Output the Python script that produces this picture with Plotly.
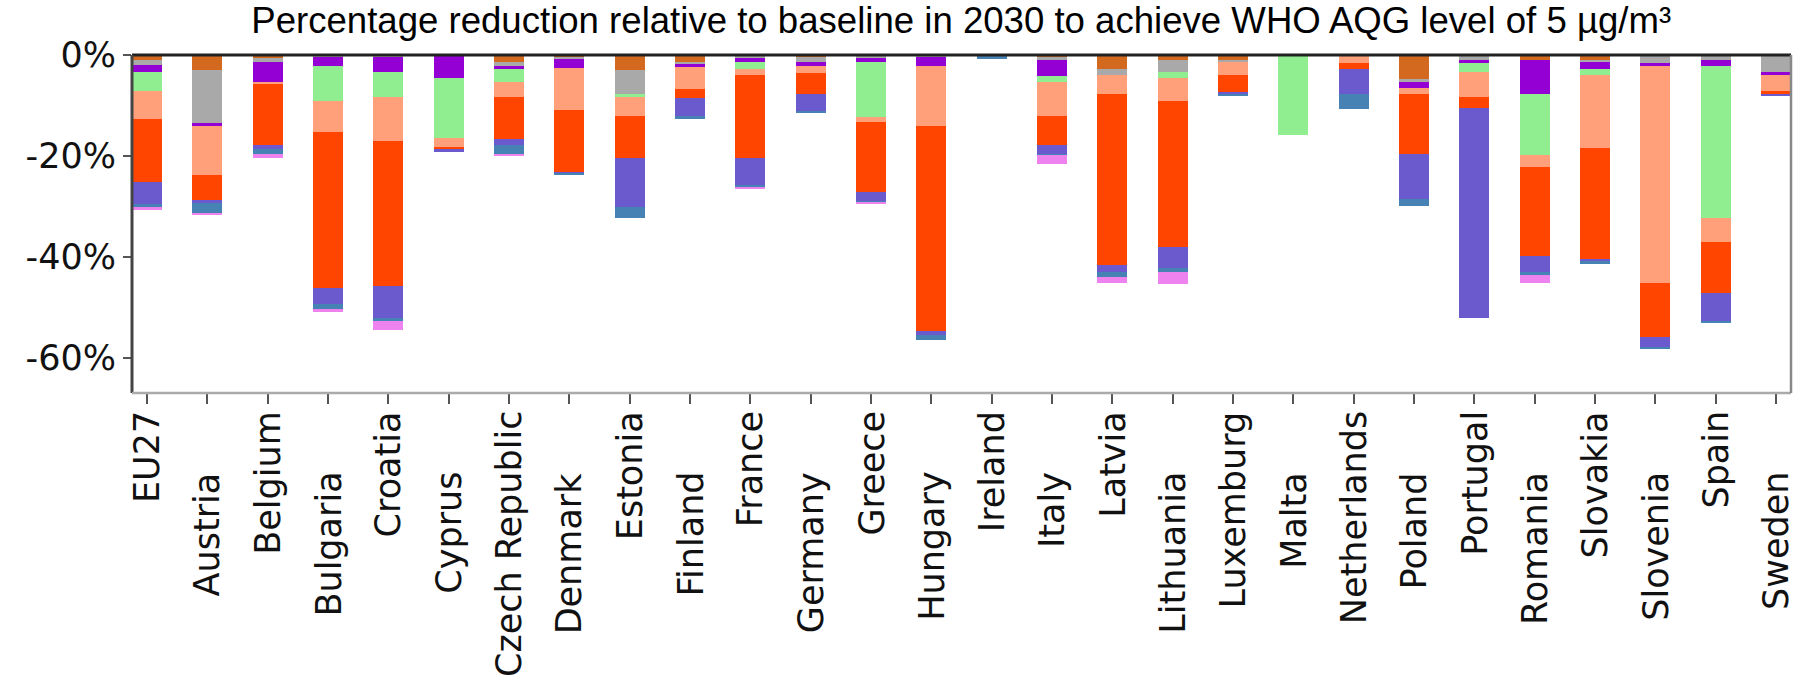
import plotly.graph_objects as go

# Countries along the x axis
countries = [
    "EU27", "Austria", "Belgium", "Bulgaria", "Croatia", "Cyprus",
    "Czech Republic", "Denmark", "Estonia", "Finland", "France", "Germany",
    "Greece", "Hungary", "Ireland", "Italy", "Latvia", "Lithuania",
    "Luxemburg", "Malta", "Netherlands", "Poland", "Portugal", "Romania",
    "Slovakia", "Slovenia", "Spain", "Sweden",
]

# Reduction contributions (percentage points), stacked from 0% downwards
sector_1 = [0.9, 2.9, 0.6, 0.2, 0.2, 0.0, 1.4, 0.3, 2.9, 1.5, 0.3, 0.4, 0.0, 0.2,
            0.0, 0.4, 2.8, 0.9, 1.0, 0.0, 0.0, 4.7, 0.0, 0.9, 1.1, 0.2, 0.2, 0.2]
sector_2 = [1.1, 10.5, 0.7, 0.1, 0.2, 0.0, 0.7, 0.5, 4.8, 0.2, 0.3, 0.9, 0.5, 0.2,
            0.2, 0.5, 1.2, 2.5, 0.3, 0.0, 0.0, 0.6, 1.0, 0.0, 0.3, 1.3, 0.7, 3.2]
sector_3 = [1.3, 0.6, 4.0, 1.8, 3.0, 4.6, 0.7, 1.8, 0.0, 0.6, 0.8, 0.8, 0.9, 1.7,
            0.0, 3.2, 0.0, 0.0, 0.0, 0.0, 0.0, 1.3, 0.5, 6.9, 1.4, 0.6, 1.2, 0.6]
sector_4 = [3.8, 0.0, 0.0, 7.1, 5.0, 11.9, 2.5, 0.0, 0.7, 0.0, 1.3, 0.0, 10.9, 0.0,
            0.0, 1.2, 0.0, 1.2, 0.0, 15.8, 0.0, 0.0, 1.9, 11.9, 1.2, 0.0, 30.1, 0.0]
sector_5 = [5.6, 9.7, 0.4, 6.1, 8.7, 1.8, 3.1, 8.3, 3.7, 4.5, 1.3, 1.5, 1.0, 11.9,
            0.0, 6.8, 3.7, 4.6, 2.7, 0.0, 1.5, 1.1, 5.0, 2.4, 14.4, 43.1, 4.8, 3.1]
sector_6 = [12.5, 4.9, 12.1, 30.8, 28.7, 0.5, 8.2, 12.4, 8.3, 1.8, 16.3, 4.1, 13.9, 40.7,
            0.0, 5.8, 33.8, 28.8, 3.5, 0.0, 1.3, 11.9, 2.0, 17.6, 21.9, 10.6, 10.1, 0.6]
sector_7 = [4.2, 0.7, 0.8, 3.1, 6.3, 0.3, 1.2, 0.2, 9.7, 3.5, 5.6, 3.3, 1.8, 0.8,
            0.0, 1.7, 1.5, 4.2, 0.2, 0.0, 4.9, 8.9, 41.7, 3.3, 0.4, 2.0, 5.6, 0.5]
sector_8 = [0.6, 2.1, 1.0, 1.0, 0.6, 0.0, 1.8, 0.3, 2.2, 0.6, 0.2, 0.5, 0.1, 1.0,
            0.5, 0.2, 1.0, 0.8, 0.5, 0.0, 3.0, 1.4, 0.0, 0.6, 0.6, 0.3, 0.2, 0.0]
sector_9 = [0.7, 0.2, 0.8, 0.7, 1.8, 0.0, 0.2, 0.0, 0.0, 0.0, 0.4, 0.0, 0.3, 0.0,
            0.0, 1.8, 1.1, 2.3, 0.0, 0.0, 0.0, 0.0, 0.0, 1.5, 0.0, 0.0, 0.0, 0.0]

series = [sector_1, sector_2, sector_3, sector_4, sector_5,
          sector_6, sector_7, sector_8, sector_9]
colors = ["#D2691E", "#A9A9A9", "#9400D3", "#90EE90", "#FFA07A",
          "#FF4500", "#6A5ACD", "#4682B4", "#EE82EE"]

y_tick_values = [0, -20, -40, -60]
y_tick_labels = ["0%", "-20%", "-40%", "-60%"]

x_pos = list(range(len(countries)))

fig = go.Figure()
for vals, col in zip(series, colors):
    fig.add_trace(go.Bar(
        x=x_pos,
        y=[-v for v in vals],
        width=0.5,
        marker=dict(color=col, line=dict(width=0)),
        showlegend=False,
    ))

label_font = dict(family="DejaVu Sans", size=35, color="#111111")

# Rotated country labels, alternating between two depths
annotations = []
for i, name in enumerate(countries):
    annotations.append(dict(
        x=i, xref="x", y=0, yref="paper",
        yshift=-16 if i % 2 == 0 else -77,
        text=name, textangle=-90, showarrow=False,
        xanchor="center", yanchor="top",
        font=label_font,
    ))

# Frame around the plotting area
frame = [
    dict(type="line", xref="paper", yref="paper", x0=0, x1=1, y0=1, y1=1,
         line=dict(color="#222222", width=3)),
    dict(type="line", xref="paper", yref="paper", x0=0, x1=0, y0=0, y1=1,
         line=dict(color="#444444", width=3)),
    dict(type="line", xref="paper", yref="paper", x0=0, x1=1, y0=0, y1=0,
         line=dict(color="#AAAAAA", width=2.5)),
    dict(type="line", xref="paper", yref="paper", x0=1, x1=1, y0=0, y1=1,
         line=dict(color="#888888", width=2.5)),
]

fig.update_layout(
    width=1800, height=697,
    margin=dict(l=132, r=9, t=55, b=304),
    paper_bgcolor="white", plot_bgcolor="white",
    barmode="relative", bargap=0,
    title=dict(
        text="Percentage reduction relative to baseline in 2030 to achieve WHO AQG level of 5 µg/m³",
        font=dict(family="Liberation Sans, Arial", size=36.6, color="black"),
        x=0.534, xanchor="center", xref="container",
        y=1 - 20.5 / 697, yanchor="middle", yref="container",
    ),
    xaxis=dict(
        range=[-0.25, 27.25],
        tickmode="array", tickvals=x_pos, ticktext=[""] * len(x_pos),
        showticklabels=False,
        ticks="outside", ticklen=10, tickwidth=2, tickcolor="#555555",
        showgrid=False, zeroline=False, showline=False,
    ),
    yaxis=dict(
        range=[-66.9, 0],
        tickmode="array", tickvals=y_tick_values, ticktext=y_tick_labels,
        ticks="outside", ticklen=8, tickwidth=2, tickcolor="#555555",
        tickfont=dict(family="DejaVu Sans", size=35, color="#111111"),
        showgrid=False, zeroline=False, showline=False,
    ),
    annotations=annotations,
    shapes=frame,
)

fig.write_html("out.html")
